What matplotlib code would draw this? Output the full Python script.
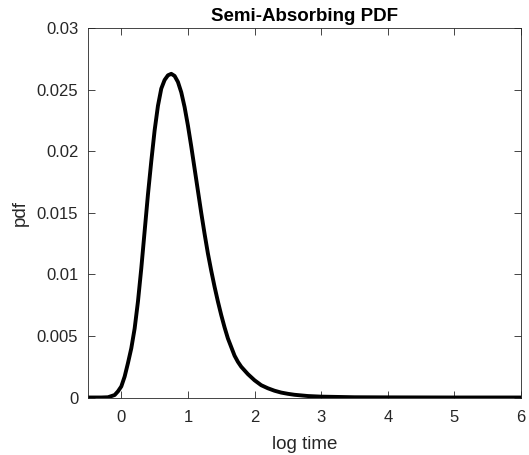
import matplotlib
matplotlib.use("Agg")
import matplotlib.pyplot as plt

# data
log_time = [-0.5, -0.3, -0.2, -0.1, -0.05, 0.0, 0.05, 0.1, 0.15, 0.2, 0.25, 0.3, 0.35,
            0.4, 0.45, 0.5, 0.55, 0.6, 0.65, 0.7, 0.75, 0.8, 0.85, 0.9, 0.95, 1.0,
            1.05, 1.1, 1.15, 1.2, 1.25, 1.3, 1.35, 1.4, 1.45, 1.5, 1.55, 1.6, 1.65, 1.7,
            1.75, 1.8, 1.9, 2.0, 2.1, 2.2, 2.3, 2.4, 2.5, 2.6, 2.8, 3.0, 3.5, 4.0, 5.0, 6.0]
pdf = [0.0, 0.0, 0.00002, 0.0002, 0.0005, 0.0009, 0.0017, 0.0028, 0.0040, 0.0056,
       0.0078, 0.0105, 0.0135, 0.0165, 0.0192, 0.0217, 0.0237, 0.0251, 0.0258,
       0.02618, 0.0263, 0.02613, 0.02564, 0.0248, 0.0236, 0.0221, 0.0204, 0.0186,
       0.0168, 0.0150, 0.0133, 0.0117, 0.0103, 0.0090, 0.0078, 0.0067, 0.0057,
       0.0048, 0.0041, 0.0034, 0.0029, 0.0025, 0.0019, 0.0014, 0.0010, 0.00075,
       0.00055, 0.0004, 0.0003, 0.00022, 0.00012, 0.00007, 0.00002, 0.00001,
       0.0, 0.0]
x_ticks = [0, 1, 2, 3, 4, 5, 6]
y_ticks = [0, 0.005, 0.01, 0.015, 0.02, 0.025, 0.03]
y_tick_labels = ["0", "0.005", "0.01", "0.015", "0.02", "0.025", "0.03"]

plt.rcParams['font.family'] = ['Liberation Sans', 'DejaVu Sans']
axc = '#262626'

fig = plt.figure(figsize=(5.29, 4.55), dpi=100)
ax = fig.add_axes([88/529, 1-397.5/455, (521-88)/529, (397.5-28.3)/455])
ax.plot(log_time, pdf, color='black', lw=2.8, solid_joinstyle='round')
ax.set_xlim(-0.5, 6)
ax.set_ylim(0, 0.03)
ax.set_xticks(x_ticks)
ax.set_yticks(y_ticks)
ax.set_yticklabels(y_tick_labels)
ax.tick_params(axis='both', direction='in', top=True, right=True, length=5, width=0.6,
               colors=axc, labelsize=12, labelcolor=axc)
ax.tick_params(axis='x', pad=9)
ax.tick_params(axis='y', pad=7)
for s in ax.spines.values():
    s.set_color(axc)
    s.set_linewidth(0.6)
ax.set_xlabel('log time', fontsize=13.5, color=axc, labelpad=8)
ax.set_ylabel('pdf', fontsize=13.5, color=axc, labelpad=6)
ax.set_title('Semi-Absorbing PDF', fontsize=13.5, fontweight='bold', color='black', pad=5)
fig.savefig('out.png', dpi=100)
